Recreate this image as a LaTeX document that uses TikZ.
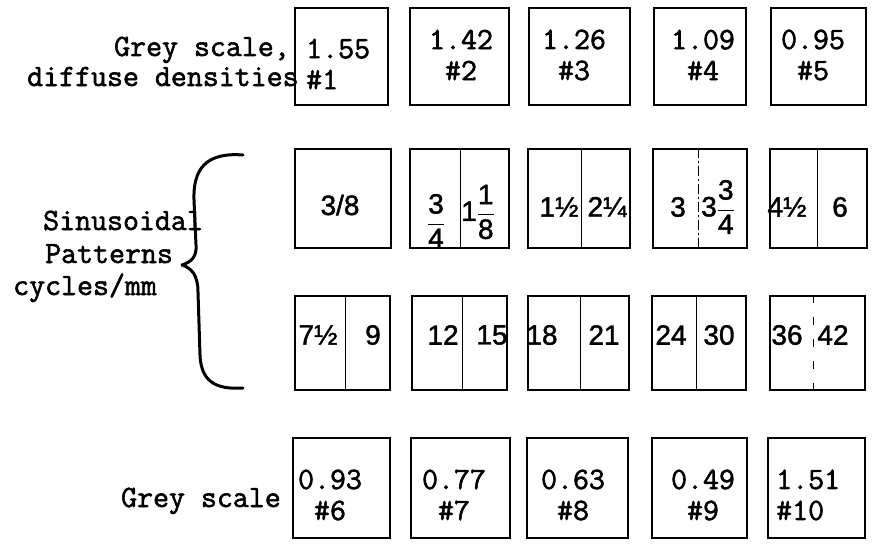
\documentclass[tikz,border=0pt]{standalone}
\usepackage{amsmath}
\usepackage{fontspec}
\newfontfamily\numfont[FakeBold=1.5]{Liberation Sans}
\newfontfamily\typefont[FakeBold=1.8]{Latin Modern Mono}
\newcommand\myfrac[2]{\(\genfrac{}{}{1.3pt}{0}{\hbox{#1}}{\hbox{#2}}\)}
\begin{document}
\begin{tikzpicture}[x=1pt,y=-1pt,
  box/.style 2 args={draw, line width=2.8pt, inner sep=0pt, minimum width=#1pt, minimum height=#2pt},
  mono/.style={font=\fontsize{31}{31}\selectfont\typefont, inner sep=0pt},
  boxtext/.style={mono, align=center},
  num/.style={font=\fontsize{28}{30}\selectfont\numfont, inner sep=0pt},
  divider/.style={line width=0.9pt},
  brace/.style={line width=3pt, line cap=round, line join=round}]
\useasboundingbox (0,0) rectangle (872,551);

% ---------- row 1 : grey scale, diffuse densities
\node[box={93}{97}]  (r1c1) at (341.5,56.5) {};
\node[box={99}{97}]  (r1c2) at (459.5,56.5) {};
\node[box={101}{97}] (r1c3) at (579.5,56.5) {};
\node[box={92}{97}]  (r1c4) at (700,56.5) {};
\node[box={95}{97}]  (r1c5) at (818.5,56.5) {};

\node[mono, anchor=base east] (lab1a) at (290,56) {Grey scale,};
\node[mono, anchor=base west] (lab1b) at (27,86) {diffuse densities};

\node[mono, align=left, anchor=west] (t11) at (306,64) {1.55\\\#1};
\node[boxtext] (t12) at (461,55) {1.42\\\#2};
\node[boxtext] (t13) at (574,55) {1.26\\\#3};
\node[boxtext] (t14) at (703,55) {1.09\\\#4};
\node[boxtext] (t15) at (813,55) {0.95\\\#5};

% ---------- row 2 : sinusoidal patterns
\node[box={96}{99}]  (r2c1) at (343,198.5) {};
\node[box={99}{99}]  (r2c2) at (459.5,198.5) {};
\node[box={102}{99}] (r2c3) at (579,198.5) {};
\node[box={94}{99}]  (r2c4) at (700,198.5) {};
\node[box={97}{99}]  (r2c5) at (818.5,198.5) {};

\draw[divider] ([xshift=0.5pt]r2c2.north) -- ([xshift=0.5pt]r2c2.south);
\draw[divider] ([xshift=2pt]r2c3.north) -- ([xshift=2pt]r2c3.south);
\draw[divider, dash pattern=on 10pt off 3pt on 2pt off 3pt] ([xshift=-2pt]r2c4.north) -- ([xshift=-2pt]r2c4.south);
\draw[divider] ([xshift=-1.5pt]r2c5.north) -- ([xshift=-1.5pt]r2c5.south);

\node[num] (t21)  at (340,205) {3/8};
\node[num] (t22a) at (436,221) {\myfrac{3}{4}};
\node[num] (t22b) at (478,212) {1\myfrac{1}{8}};
\node[num] (t23a) at (559,207) {1½};
\node[num] (t23b) at (607,207) {2¼};
\node[num] (t24a) at (678,207) {3};
\node[num] (t24b) at (718,207) {3\myfrac{3}{4}};
\node[num] (t25a) at (787,207) {4½};
\node[num] (t25b) at (840,207) {6};

% ---------- row 3
\node[box={95}{94}]  (r3c1) at (342.5,343) {};
\node[box={95}{94}]  (r3c2) at (459.5,343) {};
\node[box={101}{94}] (r3c3) at (578.5,343) {};
\node[box={94}{94}]  (r3c4) at (699,343) {};
\node[box={95}{94}]  (r3c5) at (817.5,343) {};

\draw[divider] ([xshift=2.5pt]r3c1.north) -- ([xshift=2.5pt]r3c1.south);
\draw[divider] ([xshift=2.5pt]r3c2.north) -- ([xshift=2.5pt]r3c2.south);
\draw[divider] ([xshift=1.5pt]r3c3.north) -- ([xshift=1.5pt]r3c3.south);
\draw[divider] ([xshift=-3pt]r3c4.north) -- ([xshift=-3pt]r3c4.south);
\draw[divider, dash pattern=on 8pt off 14pt] ([xshift=-4.5pt]r3c5.north) -- ([xshift=-4.5pt]r3c5.south);

\node[num] (t31a) at (318,335) {7½};
\node[num] (t31b) at (373,335) {9};
\node[num] (t32a) at (443,335) {12};
\node[num] (t32b) at (492,335) {15};
\node[num] (t33a) at (542,335) {18};
\node[num] (t33b) at (604,335) {21};
\node[num] (t34a) at (671,335) {24};
\node[num] (t34b) at (719,335) {30};
\node[num] (t35a) at (787,335) {36};
\node[num] (t35b) at (833,335) {42};

% labels and brace
\node[mono, anchor=base west] (lab2a) at (43,230) {Sinusoidal};
\node[mono, anchor=base west] (lab2b) at (45,263) {Patterns};
\node[mono, anchor=base west] (lab2c) at (13,295) {cycles/mm};

\draw[brace] (243,155) .. controls (205,152) and (193,170) .. (194,200)
  -- (196,245) .. controls (197,257) and (191,262) .. (182,265)
  .. controls (192,268) and (198,276) .. (198,292)
  -- (200,355) .. controls (201,380) and (214,390) .. (243,388);

% ---------- row 4 : grey scale
\node[box={97}{100}]  (r4c1) at (341.5,488) {};
\node[box={99}{100}]  (r4c2) at (460.5,488) {};
\node[box={101}{100}] (r4c3) at (577.5,488) {};
\node[box={95}{100}]  (r4c4) at (699.5,488) {};
\node[box={97}{100}]  (r4c5) at (816.5,488) {};

\node[mono, anchor=base east] (lab4) at (281,507) {Grey scale};

\node[boxtext] (t41) at (330,495) {0.93\\\#6};
\node[boxtext] (t42) at (454,495) {0.77\\\#7};
\node[boxtext] (t43) at (573,495) {0.63\\\#8};
\node[boxtext] (t44) at (703,495) {0.49\\\#9};
\node[mono, align=left, anchor=west] (t45) at (776,495) {1.51\\\#10};
\end{tikzpicture}
\end{document}
